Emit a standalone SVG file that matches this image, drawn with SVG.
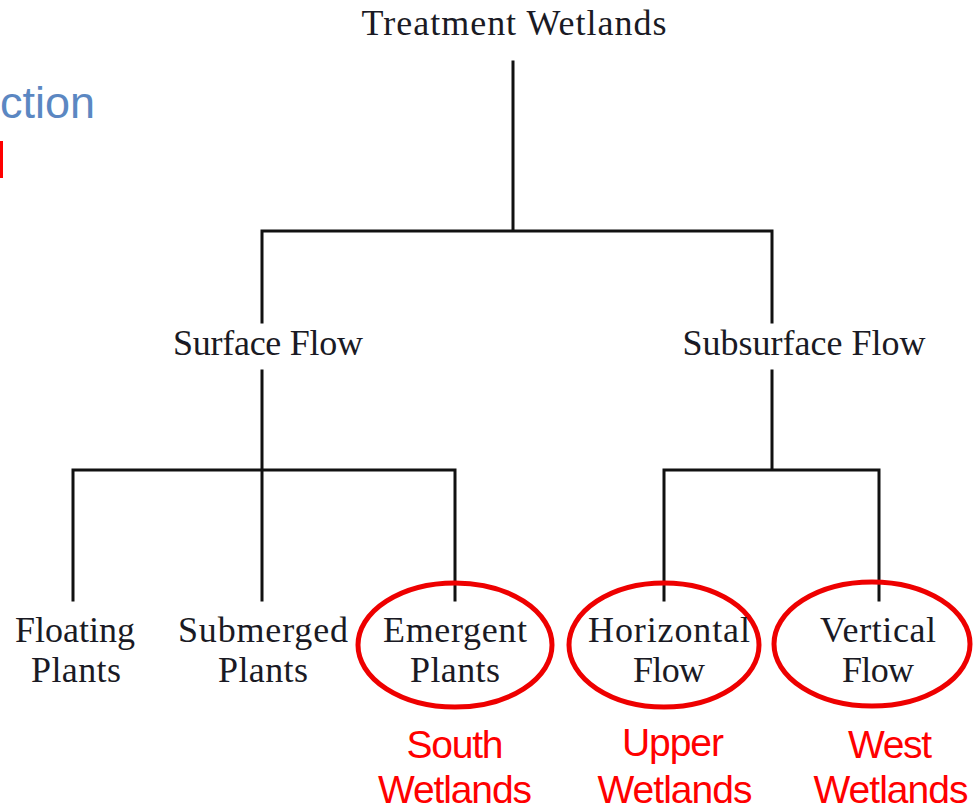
<svg xmlns="http://www.w3.org/2000/svg" width="974" height="810" viewBox="0 0 974 810">
<style>
.lbl{font-family:"Liberation Serif","Times New Roman",serif;font-size:36px;fill:#1a1a24;text-anchor:middle}
.red{font-family:"Liberation Sans",Arial,sans-serif;font-size:39px;fill:#ff0000;text-anchor:middle}
.conn{stroke:#111;stroke-width:3;fill:none;stroke-linecap:square}
.ring{fill:none;stroke:#ee0000;stroke-width:5}
</style>
<rect width="974" height="810" fill="#ffffff"/>
<text x="95" y="118" font-family="'Liberation Sans',Arial,sans-serif" font-size="45" fill="#5b87c2" text-anchor="end">ction</text>
<rect x="0" y="141" width="3" height="37" fill="#ff0000"/>
<g id="connectors">
<path class="conn" d="M513 62V231M262 322V231H772V322"/>
<path class="conn" d="M262 371V600M73 600V470H455V600"/>
<path class="conn" d="M772 371V470M664 600V470H879V600"/>
</g>
<g id="n-root"><text class="lbl" x="514" y="35" textLength="305">Treatment Wetlands</text></g>
<g id="n-surface"><text class="lbl" x="268" y="355" textLength="190">Surface Flow</text></g>
<g id="n-subsurface"><text class="lbl" x="804" y="355" textLength="243">Subsurface Flow</text></g>
<g id="n-floating"><text class="lbl" x="75" y="642" textLength="120">Floating</text><text class="lbl" x="76" y="682" textLength="90">Plants</text></g>
<g id="n-submerged"><text class="lbl" x="263" y="642" textLength="170">Submerged</text><text class="lbl" x="263" y="682" textLength="90">Plants</text></g>
<g id="n-emergent"><ellipse class="ring" cx="455" cy="645" rx="97" ry="62"/><text class="lbl" x="455" y="642" textLength="144">Emergent</text><text class="lbl" x="455" y="682" textLength="90">Plants</text><text class="red" x="455" y="758" textLength="97">South</text><text class="red" x="455" y="803" textLength="154">Wetlands</text></g>
<g id="n-horizontal"><ellipse class="ring" cx="664" cy="645" rx="95" ry="62"/><text class="lbl" x="669" y="642" textLength="162">Horizontal</text><text class="lbl" x="669" y="682" textLength="72">Flow</text><text class="red" x="673" y="756" textLength="102">Upper</text><text class="red" x="675" y="803" textLength="155">Wetlands</text></g>
<g id="n-vertical"><ellipse class="ring" cx="872" cy="644" rx="98" ry="62"/><text class="lbl" x="878" y="642" textLength="116">Vertical</text><text class="lbl" x="878" y="682" textLength="72">Flow</text><text class="red" x="890" y="758" textLength="84">West</text><text class="red" x="891" y="803" textLength="155">Wetlands</text></g>
</svg>
